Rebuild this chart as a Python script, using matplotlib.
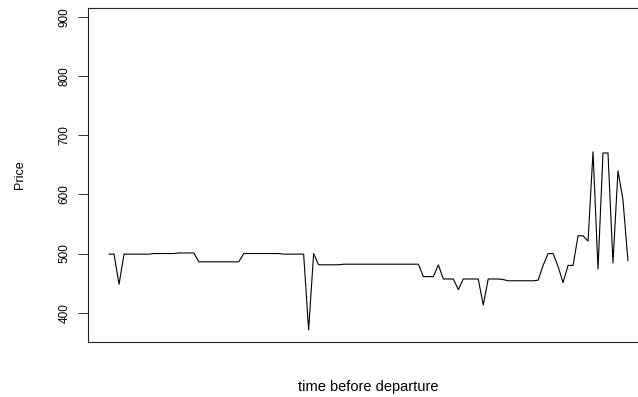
import numpy as np
import matplotlib
matplotlib.use("Agg")
import matplotlib.pyplot as plt

plt.rcParams["font.family"] = ["Liberation Sans", "DejaVu Sans"]

# Fare observed at each step before departure
price = [
    499, 499, 448,
    499, 499, 499, 499, 499, 499,
    500, 500, 500, 500, 500,
    501, 501, 501, 501,
    486, 486, 486, 486, 486, 486, 486, 486, 486,
    500, 500, 500, 500, 500, 500, 500, 500, 499, 499, 499, 499, 499,
    371, 500,
    481, 481, 481, 481, 481,
    482, 482, 482, 482, 482, 482, 482, 482, 482, 482, 482, 482, 482, 482, 482, 482,
    461, 461, 461,
    481,
    457, 457, 457,
    439,
    457, 457, 457, 457,
    413,
    457, 457, 457,
    456,
    454, 454, 454, 454, 454, 454,
    455, 480, 500, 500, 478, 451, 480, 480, 530, 530, 521,
    672, 474, 670, 670, 484, 640, 591, 488,
]
step = np.arange(len(price))

y_ticks = [400, 500, 600, 700, 800, 900]
x_label = "time before departure"
y_label = "Price"

W, H = 638, 397
fig = plt.figure(figsize=(W / 100, H / 100), dpi=100)

# plot region (extends past the right edge of the canvas)
left, right, top, bottom = 88.3, 648.7, 8.0, 342.3
ax = fig.add_axes([left / W, 1 - bottom / H, (right - left) / W, (bottom - top) / H])

ax.plot(step, price, color="black", linewidth=0.8)

n = len(price) - 1
pad = 0.04 * n
ax.set_xlim(-pad, n + pad)
ax.set_ylim(350, 915)

ax.set_xticks([])
ax.set_yticks(y_ticks)
ax.set_yticklabels([str(v) for v in y_ticks], rotation=90, va="center", fontsize=8.5)
ax.tick_params(axis="y", direction="out", length=7, width=0.7, pad=6, color="#333333")

for s in ax.spines.values():
    s.set_linewidth(0.8)
    s.set_color("#222222")

fig.text(20 / W, 1 - 175 / H, y_label, rotation=90, ha="center", va="center", fontsize=9)
fig.text((left + right) / 2 / W, 1 - 387 / H, x_label, ha="center", va="center", fontsize=10.5)

fig.savefig("out.png", dpi=100)
